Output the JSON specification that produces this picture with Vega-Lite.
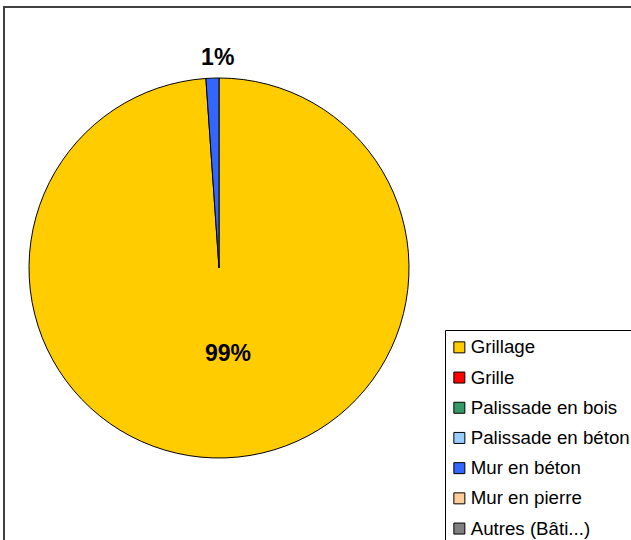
{
  "$schema": "https://vega.github.io/schema/vega-lite/v6.json",
  "width": 628,
  "height": 534,
  "autosize": {"type": "none"},
  "padding": {"left": 4, "top": 7, "right": 0, "bottom": 0},
  "background": "white",
  "config": {
    "view": {"stroke": null},
    "font": "Liberation Sans"
  },
  "data": {
    "values": [
      {"type": "Grillage", "share": 0.989},
      {"type": "Grille", "share": 0},
      {"type": "Palissade en bois", "share": 0},
      {"type": "Palissade en béton", "share": 0},
      {"type": "Mur en béton", "share": 0.011},
      {"type": "Mur en pierre", "share": 0},
      {"type": "Autres (Bâti...)", "share": 0}
    ]
  },
  "transform": [{"filter": "datum.share > 0"}],
  "layer": [
    {
      "transform": [{"aggregate": [{"op": "count", "as": "n"}]}],
      "mark": {"type": "rect", "fill": null, "fillOpacity": 0, "stroke": "#404040", "strokeWidth": 2},
      "encoding": {}
    },
    {
      "mark": {"type": "arc", "outerRadius": 190, "x": 215, "y": 261, "stroke": "black", "strokeWidth": 1},
      "encoding": {
        "theta": {"field": "share", "type": "quantitative", "stack": true},
        "order": {"field": "type", "sort": "ascending"},
        "color": {
          "field": "type",
          "type": "nominal",
          "scale": {
            "domain": ["Grillage", "Grille", "Palissade en bois", "Palissade en béton", "Mur en béton", "Mur en pierre", "Autres (Bâti...)"],
            "range": ["#FFCC00", "#FF0000", "#339966", "#99CCFF", "#3366FF", "#FFCC99", "#808080"]
          },
          "legend": {
            "orient": "none",
            "legendX": 441,
            "legendY": 323,
            "title": null,
            "strokeColor": "black",
            "fillColor": "white",
            "padding": 8,
            "labelFontSize": 18.7,
            "labelFont": "Liberation Sans",
            "labelColor": "black",
            "symbolType": "square",
            "symbolSize": 121,
            "symbolStrokeColor": "black",
            "symbolStrokeWidth": 1,
            "symbolOpacity": 1,
            "symbolOffset": -3,
            "rowPadding": 10.2,
            "labelOffset": 2,
            "labelLimit": 400
          }
        }
      }
    },
    {
      "mark": {"type": "text", "radius": 210, "x": 215, "y": 261, "dx": 6, "fontSize": 23, "fontWeight": "bold", "font": "Liberation Sans", "color": "black"},
      "encoding": {
        "theta": {"field": "share", "type": "quantitative", "stack": true},
        "order": {"field": "type", "sort": "ascending"},
        "detail": {"field": "type", "type": "nominal"},
        "text": {"field": "share", "type": "quantitative", "format": ".0%"},
        "opacity": {"condition": {"test": "datum.type == 'Mur en béton'", "value": 1}, "value": 0}
      }
    },
    {
      "mark": {"type": "text", "radius": 86, "x": 215, "y": 261, "dx": 6, "fontSize": 23, "fontWeight": "bold", "font": "Liberation Sans", "color": "black"},
      "encoding": {
        "theta": {"field": "share", "type": "quantitative", "stack": true},
        "order": {"field": "type", "sort": "ascending"},
        "detail": {"field": "type", "type": "nominal"},
        "text": {"field": "share", "type": "quantitative", "format": ".0%"},
        "opacity": {"condition": {"test": "datum.type == 'Grillage'", "value": 1}, "value": 0}
      }
    }
  ]
}
